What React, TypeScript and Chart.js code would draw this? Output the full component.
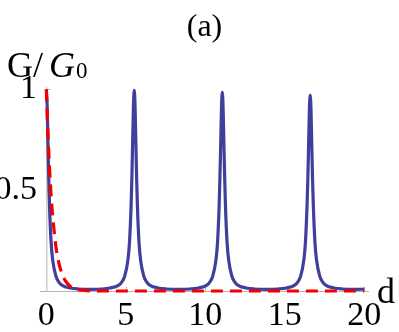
import React, { useEffect, useRef } from "react";
import { Chart, registerables } from "chart.js";

Chart.register(...registerables);

// Blue curve G/G0 (solid)
const BLUE_D = [
  0, 0.05, 0.1, 0.15, 0.2, 0.3, 0.4, 0.6, 0.8, 1.0, 1.5, 2.0, 2.77, 3.5, 4.0,
  4.53, 4.73, 4.93, 5.13, 5.23, 5.33, 5.38, 5.43, 5.48, 5.53, 5.58, 5.63, 5.68,
  5.73, 5.83, 5.93, 6.13, 6.33, 6.53, 7.03, 7.53, 8.3, 9.07, 9.57, 10.07, 10.27,
  10.47, 10.67, 10.77, 10.87, 10.92, 10.97, 11.02, 11.07, 11.12, 11.17, 11.22,
  11.27, 11.37, 11.47, 11.67, 11.87, 12.07, 12.57, 13.07, 13.84, 14.6, 15.1,
  15.6, 15.8, 16.0, 16.2, 16.3, 16.4, 16.45, 16.5, 16.55, 16.6, 16.65, 16.7,
  16.75, 16.8, 16.9, 17.0, 17.2, 17.4, 17.6, 18.1, 18.6, 19.4, 20,
];
const BLUE_G = [
  1.0, 0.92, 0.74, 0.56, 0.42, 0.24, 0.153, 0.074, 0.043, 0.028, 0.015, 0.01,
  0.008, 0.01, 0.015, 0.028, 0.043, 0.074, 0.153, 0.24, 0.42, 0.56, 0.74, 0.92,
  0.995, 0.92, 0.74, 0.56, 0.42, 0.24, 0.153, 0.074, 0.043, 0.028, 0.015, 0.01,
  0.008, 0.01, 0.015, 0.028, 0.043, 0.074, 0.153, 0.24, 0.42, 0.56, 0.73, 0.91,
  0.985, 0.91, 0.73, 0.56, 0.42, 0.24, 0.153, 0.074, 0.043, 0.028, 0.015, 0.01,
  0.008, 0.01, 0.015, 0.028, 0.043, 0.074, 0.153, 0.24, 0.42, 0.55, 0.72, 0.9,
  0.97, 0.9, 0.72, 0.55, 0.42, 0.24, 0.153, 0.074, 0.043, 0.028, 0.015, 0.01,
  0.008, 0.009,
];

// Red dashed curve
const RED_D = [0, 0.1, 0.2, 0.3, 0.4, 0.5, 0.6, 0.8, 1.0, 1.2, 1.5, 2.0, 2.5, 3.0, 4.0, 6.0, 10.0, 15.0, 20.0];
const RED_G = [1.0, 0.78, 0.61, 0.47, 0.37, 0.29, 0.22, 0.135, 0.082, 0.05, 0.024, 0.007, 0.002, 0.0006, 0, 0, 0, 0, 0];

const X_TICKS = [0, 5, 10, 15, 20];
const Y_TICKS = [0.5, 1];
const TITLE = "(a)";
const X_LABEL = "d";

const SERIF = "'Liberation Serif', 'DejaVu Serif', serif";
const AXIS_COLOR = "#b4b4b4";

const axesPlugin = {
  id: "mmaAxes",
  beforeDatasetsDraw(chart: any) {
    const { ctx, chartArea, scales } = chart;
    const xs = scales.x;
    const ys = scales.y;
    const x0 = xs.getPixelForValue(0);
    const y0 = ys.getPixelForValue(0);
    ctx.save();
    ctx.strokeStyle = AXIS_COLOR;
    ctx.lineWidth = 1;
    ctx.beginPath();
    ctx.moveTo(chartArea.left, y0 + 0.5);
    ctx.lineTo(chartArea.right, y0 + 0.5);
    ctx.moveTo(x0 + 0.5, y0);
    ctx.lineTo(x0 + 0.5, chartArea.top);
    X_TICKS.forEach((v) => {
      if (v === 0) return;
      const px = Math.round(xs.getPixelForValue(v)) + 0.5;
      ctx.moveTo(px, y0);
      ctx.lineTo(px, y0 - 4);
    });
    Y_TICKS.forEach((v) => {
      const py = Math.round(ys.getPixelForValue(v)) + 0.5;
      ctx.moveTo(x0, py);
      ctx.lineTo(x0 + 4, py);
    });
    ctx.stroke();
    ctx.restore();
  },
  afterDraw(chart: any) {
    const { ctx, scales, chartArea } = chart;
    const xs = scales.x;
    const y0 = scales.y.getPixelForValue(0);
    ctx.save();
    ctx.fillStyle = "#000";
    ctx.textBaseline = "alphabetic";
    // x tick labels
    ctx.textAlign = "center";
    ctx.font = `34px ${SERIF}`;
    X_TICKS.forEach((v) => {
      ctx.fillText(String(v), xs.getPixelForValue(v), y0 + 34);
    });
    ctx.textAlign = "left";
    // y label: G/G_0
    let x = 7;
    const base = 77;
    ctx.font = `36px ${SERIF}`;
    ctx.fillText("G/", x, base);
    x += ctx.measureText("G/").width + 6;
    ctx.font = `italic 36px ${SERIF}`;
    ctx.fillText("G", x, base);
    x += ctx.measureText("G").width + 1;
    ctx.font = `23px ${SERIF}`;
    ctx.fillText("0", x, base + 1);
    // x label: d
    ctx.font = `36px ${SERIF}`;
    ctx.fillText(X_LABEL, chartArea.right + 8, y0 + 12);
    ctx.restore();
  },
};

export default function App() {
  const ref = useRef<HTMLCanvasElement>(null);
  useEffect(() => {
    document.body.style.margin = "0";
    const canvas = ref.current!;
    const chart = new Chart(canvas, {
      type: "line",
      data: {
        datasets: [
          {
            label: "red",
            data: RED_D.map((d, i) => ({ x: d, y: RED_G[i] })),
            borderColor: "#f20000",
            borderWidth: 3.2,
            borderDash: [12, 7],
            pointRadius: 0,
            cubicInterpolationMode: "monotone",
            clip: false,
            order: 0,
          },
          {
            label: "blue",
            data: BLUE_D.map((d, i) => ({ x: d, y: BLUE_G[i] })),
            borderColor: "#3f3f9c",
            borderWidth: 3.2,
            pointRadius: 0,
            cubicInterpolationMode: "monotone",
            clip: false,
            order: 1,
          },
        ],
      },
      options: {
        animation: false,
        responsive: false,
        devicePixelRatio: 1,
        layout: { padding: { left: 0, right: 30, top: 0, bottom: 0 } },
        plugins: {
          legend: { display: false },
          tooltip: { enabled: false },
          title: {
            display: true,
            text: TITLE,
            fullSize: false,
            color: "#000",
            font: { family: SERIF, size: 32, weight: "normal", lineHeight: 1.2 },
            padding: { top: 8, bottom: 41 },
          },
        },
        scales: {
          x: {
            type: "linear",
            min: -0.4,
            max: 20.3,
            grid: { display: false, drawTicks: false },
            border: { display: false },
            ticks: { display: false },
            afterBuildTicks: (s: any) => {
              s.ticks = X_TICKS.map((v) => ({ value: v }));
            },
            afterFit: (s: any) => {
              s.height = 41;
            },
          },
          y: {
            type: "linear",
            min: 0,
            max: 1.01,
            grid: { display: false, drawTicks: false },
            border: { display: false },
            ticks: {
              color: "#000",
              font: { family: SERIF, size: 34, lineHeight: 1.2 },
              padding: 3,
              autoSkip: false,
              callback: (v: any) => String(v),
            },
            afterBuildTicks: (s: any) => {
              s.ticks = Y_TICKS.map((v) => ({ value: v }));
            },
            afterFit: (s: any) => {
              s.width = 40;
            },
          },
        },
      },
      plugins: [axesPlugin],
    });
    return () => chart.destroy();
  }, []);
  return (
    <div style={{ position: "fixed", left: 0, top: 0, width: 399, height: 332, background: "#fff" }}>
      <canvas ref={ref} width={399} height={332} />
    </div>
  );
}
